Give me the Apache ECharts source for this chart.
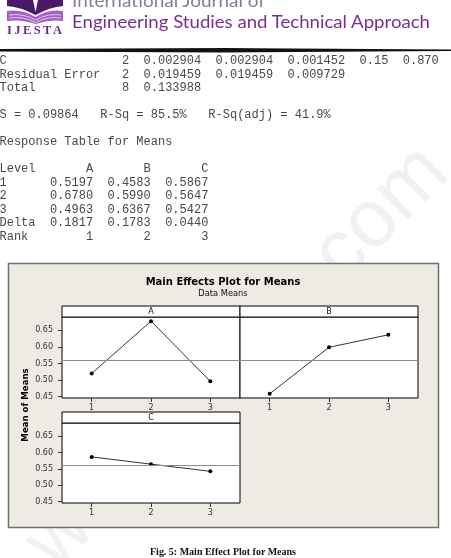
<!DOCTYPE html>
<html>
<head>
<meta charset="utf-8">
<script src="https://cdn.jsdelivr.net/npm/echarts@6/dist/echarts.min.js"></script>
<style>
  html, body { margin: 0; padding: 0; background: #fff; }
  #page { position: relative; width: 451px; height: 558px; overflow: hidden; }
  #chart { position: absolute; left: 0; top: 0; width: 451px; height: 558px; }
  #back, #text { position: absolute; left: 0; top: 0; pointer-events: none; }
</style>
</head>
<body>
<div id="page">
  <svg id="back" width="451" height="558"></svg>
  <div id="chart"></div>
  <svg id="text" width="451" height="558"></svg>
</div>
<script>
// Main effects plot for means (Minitab style), with the surrounding page text.

// ---- data ----
const levels = ['1', '2', '3']
const factorNames = ['A', 'B', 'C']
const meansA = [0.5197, 0.6780, 0.4963]
const meansB = [0.4583, 0.5990, 0.6367]
const meansC = [0.5867, 0.5647, 0.5427]
const yTicks = [0.45, 0.50, 0.55, 0.60, 0.65]

// ANOVA / response table lines printed above the chart: [text, column]
const anovaRows = [
  [['C', 0], ['2', 17], ['0.002904', 20], ['0.002904', 30], ['0.001452', 40], ['0.15', 50], ['0.870', 56]],
  [['Residual Error', 0], ['2', 17], ['0.019459', 20], ['0.019459', 30], ['0.009729', 40]],
  [['Total', 0], ['8', 17], ['0.133988', 20]],
  null,
  [['S = 0.09864   R-Sq = 85.5%   R-Sq(adj) = 41.9%', 0]],
  null,
  [['Response Table for Means', 0]],
  null,
  [['Level', 0], ['A', 12], ['B', 20], ['C', 28]],
  [['1', 0], ['0.5197', 7], ['0.4583', 15], ['0.5867', 23]],
  [['2', 0], ['0.6780', 7], ['0.5990', 15], ['0.5647', 23]],
  [['3', 0], ['0.4963', 7], ['0.6367', 15], ['0.5427', 23]],
  [['Delta', 0], ['0.1817', 7], ['0.1783', 15], ['0.0440', 23]],
  [['Rank', 0], ['1', 12], ['2', 20], ['3', 28]],
]

// ---- page text (svg) ----
const NS = 'http://www.w3.org/2000/svg'

function el(svg, tag, attrs, text) {
  const e = document.createElementNS(NS, tag)
  for (const [k, v] of Object.entries(attrs)) e.setAttribute(k, v)
  if (text !== undefined) e.textContent = text
  svg.appendChild(e)
  return e
}

function padRow(cells) {
  let s = ''
  for (const [t, c] of cells) s = s.padEnd(c) + t
  return s
}

const back = document.getElementById('back')
const svg = document.getElementById('text')

// watermark, sits behind the chart frame
el(back, 'text', {
  x: 0, y: 22, 'text-anchor': 'middle', transform: 'translate(238,358) rotate(-45)',
  'font-family': 'Liberation Sans', 'font-size': 82, fill: '#c4c4c4', opacity: 0.22,
  textLength: 560, lengthAdjust: 'spacingAndGlyphs',
}, 'www.ijesta.com')

// journal header
el(svg, 'path', { d: 'M7,0 L33,0 L35.5,12 L38,0 L63,0 L63,6 Q50,7 35.5,15 Q21,7 7,6 Z', fill: '#4a1868' })
el(svg, 'path', { d: 'M7,11 Q22,9 35.5,17 Q49,9 63,11 L63,21 Q49,19 35.5,24 Q22,19 7,21 Z', fill: '#a65ec8' })
el(svg, 'path', { d: 'M9,15 Q23,13 35.5,20 Q48,13 61,15', fill: 'none', stroke: '#e6c8f2', 'stroke-width': 1 })
el(svg, 'path', { d: 'M9,18 Q23,16 35.5,22.5 Q48,16 61,18', fill: 'none', stroke: '#e6c8f2', 'stroke-width': 1 })
el(svg, 'text', {
  x: 7, y: 33.5, 'font-family': 'Liberation Serif', 'font-weight': 'bold', 'font-size': 12.5,
  fill: '#6a2a8c', textLength: 55, lengthAdjust: 'spacing',
}, 'IJESTA')
el(svg, 'text', {
  x: 72, y: 6.5, 'font-family': 'Lato', 'font-size': 16.5, fill: '#8a7897',
  textLength: 193, lengthAdjust: 'spacingAndGlyphs',
}, 'International Journal of')
el(svg, 'text', {
  x: 72, y: 27.5, 'font-family': 'Lato', 'font-size': 16.5, fill: '#7a2f90',
  textLength: 358, lengthAdjust: 'spacingAndGlyphs',
}, 'Engineering Studies and Technical Approach')
el(svg, 'path', { d: 'M0,49 L225,48 L451,49.5 L451,51 L225,52.5 L0,51.5 Z', fill: '#111' })

// monospace output block
anovaRows.forEach((cells, i) => {
  if (!cells) return
  el(svg, 'text', {
    x: -0.5, y: 64 + i * 13.5, 'font-family': 'Liberation Mono', 'font-size': 12,
    fill: '#484848', style: 'white-space:pre',
  }, padRow(cells))
})

// caption
el(svg, 'text', {
  x: 223, y: 554.5, 'text-anchor': 'middle', 'font-family': 'Liberation Serif',
  'font-weight': 'bold', 'font-size': 11, fill: '#111', textLength: 146, lengthAdjust: 'spacingAndGlyphs',
}, 'Fig. 5: Main Effect Plot for Means')

// ---- chart ----
const allMeans = [meansA, meansB, meansC]
const grandMean = meansA.reduce((a, b) => a + b, 0) / meansA.length

// panel boxes (plot area below each factor strip)
const panels = [
  { left: 62, top: 317, width: 178, height: 81 },
  { left: 240, top: 317, width: 178, height: 81 },
  { left: 62, top: 423, width: 178, height: 80 },
]
const stripH = 11
const labelFont = { fontSize: 8, fontFamily: 'DejaVu Sans', color: '#333' }

const chart = echarts.init(document.getElementById('chart'), null, { renderer: 'canvas' })

const graphics = [
  {
    type: 'rect', z: -10,
    shape: { x: 8.5, y: 263.5, width: 430, height: 264 },
    style: { fill: '#eeebe4', stroke: '#707070', lineWidth: 1.5 },
  },
  {
    type: 'text', x: 223, y: 282,
    style: { text: 'Main Effects Plot for Means', align: 'center', verticalAlign: 'middle',
      fontSize: 10, fontWeight: 'bold', fontFamily: 'DejaVu Sans', fill: '#000' },
  },
  {
    type: 'text', x: 223, y: 294,
    style: { text: 'Data Means', align: 'center', verticalAlign: 'middle',
      fontSize: 8.3, fontFamily: 'DejaVu Sans', fill: '#111' },
  },
  {
    type: 'text', x: 26, y: 405, rotation: Math.PI / 2,
    style: { text: 'Mean of Means', align: 'center', verticalAlign: 'middle',
      fontSize: 8.6, fontWeight: 'bold', fontFamily: 'DejaVu Sans', fill: '#000' },
  },
]
panels.forEach((p, i) => {
  graphics.push({
    type: 'rect', z: 10,
    shape: { x: p.left, y: p.top - stripH, width: p.width, height: stripH },
    style: { fill: '#fff', stroke: '#000', lineWidth: 1 },
  })
  graphics.push({
    type: 'text', z: 11, x: p.left + p.width / 2, y: p.top - stripH / 2,
    style: { text: factorNames[i], align: 'center', verticalAlign: 'middle',
      fontSize: 8, fontFamily: 'DejaVu Sans', fill: '#111' },
  })
})

chart.setOption({
  animation: false,
  backgroundColor: 'transparent',
  graphic: graphics,
  grid: panels.map((p) => ({
    left: p.left, top: p.top, width: p.width, height: p.height,
    show: true, backgroundColor: '#fff', borderColor: '#000', borderWidth: 1,
  })),
  xAxis: panels.map((p, i) => ({
    gridIndex: i,
    type: 'category',
    data: levels,
    boundaryGap: true,
    axisLine: { show: false },
    axisTick: { show: true, alignWithLabel: true, length: 4, lineStyle: { color: '#333' } },
    axisLabel: { ...labelFont, margin: 6 },
    splitLine: { show: false },
  })),
  yAxis: panels.map((p, i) => ({
    gridIndex: i,
    type: 'value',
    min: 0.4458,
    max: 0.6905,
    axisLine: { show: false },
    splitLine: { show: false },
    axisTick: { show: i !== 1, length: 4, customValues: yTicks, lineStyle: { color: '#333' } },
    axisLabel: {
      show: i !== 1, ...labelFont, margin: 9, customValues: yTicks,
      formatter: (v) => Number(v).toFixed(2),
    },
  })),
  series: allMeans.map((vals, i) => ({
    type: 'line',
    name: factorNames[i],
    xAxisIndex: i,
    yAxisIndex: i,
    data: vals,
    symbol: 'circle',
    symbolSize: 4,
    itemStyle: { color: '#000' },
    lineStyle: { color: '#333', width: 1 },
    markLine: {
      silent: true,
      symbol: 'none',
      label: { show: false },
      lineStyle: { color: '#8c8c8c', type: 'solid', width: 1 },
      data: [{ yAxis: grandMean }],
    },
  })),
})
</script>
</body>
</html>
